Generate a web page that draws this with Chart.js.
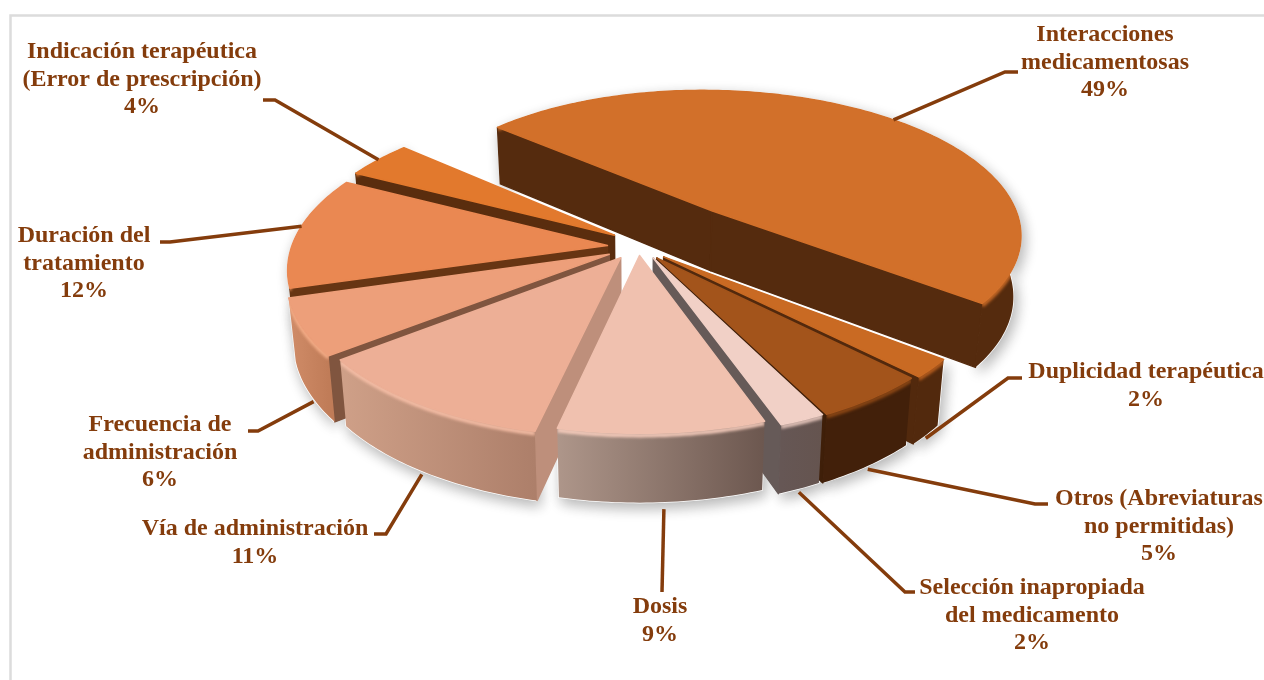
<!DOCTYPE html>
<html lang="es">
<head>
<meta charset="utf-8">
<title>Errores de medicación</title>
<style>
  html, body { margin: 0; padding: 0; background: #fff; }
  canvas { display: block; }
</style>
<script src="https://cdn.jsdelivr.net/npm/chart.js@4"></script>
</head>
<body>
<canvas id="pie" width="1264" height="680"></canvas>
<script>
// Slices, clockwise from the large back-right wedge
const categories = [
  ['Interacciones', 'medicamentosas'],
  ['Duplicidad terapéutica'],
  ['Otros (Abreviaturas', 'no permitidas)'],
  ['Selección inapropiada', 'del medicamento'],
  ['Dosis'],
  ['Vía de administración'],
  ['Frecuencia de', 'administración'],
  ['Duración del', 'tratamiento'],
  ['Indicación terapéutica', '(Error de prescripción)']
];
const values = [49, 2, 5, 2, 9, 11, 6, 12, 4];

// Explosion of each slice, in chart pixels
const explode = [70, 21, 19, 17, 12, 18, 23, 22, 21];
// Small extra drift of a slice on the disc, in hundredths of the radius
const driftX = [2.5, 0, 0, 1, -0.5, -1.5, 0, 0, 0];
const driftY = [0, 0, 0, 0, 0, 0, 0, 0, -2.5];

const topColors  = ['#D2702A', '#C96A23', '#A3541B', '#F1D0C6', '#F0C1AF', '#EDAF96', '#ED9F7A', '#EA8852', '#E2792D'];
const sideColors = ['#552B0E', '#52290D', '#3F1F09', '#665A58', '#7A5F55', '#BE8F7B', '#80553F', '#673513', '#5A2D0E'];
const wallLeft   = ['#552B0E', '#52290D', '#42200A', '#665755', '#AE968A', '#CFA088', '#D08C68', '#673513', '#5A2D0E'];
const wallRight  = ['#552B0E', '#52290D', '#42200A', '#65544F', '#6C574F', '#AD7F6A', '#C07C58', '#673513', '#5A2D0E'];
const bevelColors = ['#C96A26', '#B85E1E', '#8E4815', '#E6C6BC', '#F7CDBD', '#F6BEA6', '#F6AE88', '#F79B63', '#E2792D'];

// Text placement: centre x and first baseline of each label block
const labelX = [1105, 1146, 1159, 1032, 660, 255, 160, 84, 142];
const labelY = [41, 378, 505, 594, 613, 535, 431, 242, 58];
const lineStep = 27.5;

// Leader lines: where on the rim they start (share of slice sweep, height down the wall), then elbow and end
const leaderAt = [[0.52, 0], [0.5, 1.05], [0.5, 1.05], [0.5, 1.05], [0.49, 1.1], [0.52, 1.05], [0.4, 1.05], [0.55, 0], [0.5, 0]];
const leaderElbow = [[1005, 72], [1008, 378], [1035, 504], [905, 592], [662, 592], [386, 534], [258, 431], [170, 242], [275, 100]];
const leaderEnd   = [[1018, 72], [1022, 378], [1048, 504], [915, 592], [662, 592], [374, 534], [248, 431], [160, 242], [263, 100]];

const INK = '#843C0C';
const FRAME = '#DCDCDC';

// View of the disc: horizontal and vertical stretch, wall height (all relative to radius), perspective
const STRETCH_X = 1.49, STRETCH_Y = 0.70, WALL = 0.29, PERSPECTIVE = 0.15, TAPER = 0.02;

function projector(arc) {
  const R = arc.outerRadius;
  return (u, v, z) => {
    const s = 1 / (1 - PERSPECTIVE * v);
    const t = 1 - TAPER * z;
    return [
      arc.x + u * R * STRETCH_X * s * t,
      arc.y + v * R * STRETCH_Y * s * t + z * R * WALL * s
    ];
  };
}

function sliceGeometry(arc, i) {
  const mid = (arc.startAngle + arc.endAngle) / 2;
  const t = arc.options.offset / arc.outerRadius;
  const ox = t * Math.cos(mid) + driftX[i] / 100, oy = t * Math.sin(mid) + driftY[i] / 100;
  const p = projector(arc);
  const rimAt = (share, z) => {
    const a = arc.startAngle + share * (arc.endAngle - arc.startAngle);
    return p(Math.cos(a) + ox, Math.sin(a) + oy, z);
  };
  const steps = Math.max(4, Math.ceil((arc.endAngle - arc.startAngle) * 180 / Math.PI));
  const rim = z => Array.from({ length: steps + 1 }, (_, k) => rimAt(k / steps, z));
  const apex = z => p(ox, oy, z);
  return { rim, apex, rimAt, mid };
}

function tracePoly(ctx, pts) {
  ctx.beginPath();
  pts.forEach((q, k) => k ? ctx.lineTo(q[0], q[1]) : ctx.moveTo(q[0], q[1]));
}

function fillPoly(ctx, pts, color) {
  tracePoly(ctx, pts);
  ctx.closePath();
  ctx.fillStyle = color;
  ctx.strokeStyle = color;
  ctx.lineWidth = 1.5;
  ctx.lineJoin = 'round';
  ctx.fill();
  if (typeof color === 'string') ctx.stroke();
}

// A radial wall shows only when the slice's own top lies above its top edge
function sideVisible(a, b, inside) {
  const ex = b[0] - a[0], ey = b[1] - a[1];
  const crossIn = ex * (inside[1] - a[1]) - ey * (inside[0] - a[0]);
  const crossDown = ex;
  return crossIn * crossDown < 0;
}

function drawSlice(ctx, arc, i) {
  const g = sliceGeometry(arc, i);
  const rimTop = g.rim(0), rimBot = g.rim(1);
  const apexTop = g.apex(0), apexBot = g.apex(1);
  const inner = g.rimAt(0.5, 0);
  const first = rimTop[0], last = rimTop[rimTop.length - 1];

  if (sideVisible(apexTop, first, inner)) {
    fillPoly(ctx, [apexTop, first, rimBot[0], apexBot], sideColors[i]);
  }
  if (sideVisible(apexTop, last, inner)) {
    fillPoly(ctx, [apexTop, last, rimBot[rimBot.length - 1], apexBot], sideColors[i]);
  }

  const xs = rimTop.map(q => q[0]);
  const grad = ctx.createLinearGradient(Math.min(...xs), 0, Math.max(...xs), 0);
  grad.addColorStop(0, wallLeft[i]);
  grad.addColorStop(1, wallRight[i]);
  const wall = rimTop.concat(rimBot.slice().reverse());
  fillPoly(ctx, wall, grad);

  // Soft bevel where the top meets the outer wall, kept inside the wall
  ctx.save();
  tracePoly(ctx, wall);
  ctx.closePath();
  ctx.clip();
  ctx.filter = 'blur(1.6px)';
  tracePoly(ctx, g.rim(0.03));
  ctx.strokeStyle = bevelColors[i];
  ctx.lineWidth = 4;
  ctx.stroke();
  ctx.restore();

  fillPoly(ctx, [apexTop].concat(rimTop), topColors[i]);
}

const pie3d = {
  id: 'pie3d',
  // Replaces the flat arcs with extruded slices built from the same arc elements
  beforeDatasetDraw(chart, args) {
    const { ctx } = chart;
    const arcs = args.meta.data;
    ctx.save();
    ctx.strokeStyle = FRAME;
    ctx.lineWidth = 2.5;
    ctx.beginPath();
    ctx.moveTo(10.5, 680);
    ctx.lineTo(10.5, 15.5);
    ctx.lineTo(1264, 15.5);
    ctx.stroke();

    // Ground shadow first, so it only falls on the page
    ctx.save();
    ctx.shadowColor = 'rgba(0,0,0,0.30)';
    ctx.shadowBlur = 14;
    ctx.shadowOffsetX = 3;
    ctx.shadowOffsetY = 5;
    arcs.forEach((arc, i) => {
      const g = sliceGeometry(arc, i);
      fillPoly(ctx, g.rim(0).concat(g.rim(1).reverse()), '#fff');
    });
    ctx.restore();

    const frontness = arc => {
      const deg = (arc.startAngle + arc.endAngle) / 2 * 180 / Math.PI + 90;
      const wrapped = ((deg % 360) + 360) % 360;
      return -Math.abs(wrapped - 180);
    };
    arcs.map((arc, i) => ({ arc, i }))
      .sort((a, b) => frontness(a.arc) - frontness(b.arc))
      .forEach(({ arc, i }) => drawSlice(ctx, arc, i));
    ctx.restore();
    return false;
  },
  afterDatasetsDraw(chart) {
    const { ctx } = chart;
    const arcs = chart.getDatasetMeta(0).data;
    ctx.save();
    ctx.strokeStyle = INK;
    ctx.lineWidth = 3.5;
    ctx.lineJoin = 'miter';
    arcs.forEach((arc, i) => {
      const from = sliceGeometry(arc, i).rimAt(leaderAt[i][0], leaderAt[i][1]);
      ctx.beginPath();
      ctx.moveTo(from[0], from[1]);
      ctx.lineTo(leaderElbow[i][0], leaderElbow[i][1]);
      ctx.lineTo(leaderEnd[i][0], leaderEnd[i][1]);
      ctx.stroke();
    });
    ctx.fillStyle = INK;
    ctx.font = 'bold 24px "Liberation Serif"';
    ctx.textAlign = 'center';
    ctx.textBaseline = 'alphabetic';
    categories.forEach((lines, i) => {
      lines.concat(values[i] + '%').forEach((line, k) => {
        ctx.fillText(line, labelX[i], labelY[i] + k * lineStep);
      });
    });
    ctx.restore();
  }
};

new Chart(document.getElementById('pie'), {
  type: 'pie',
  data: {
    labels: categories.map(lines => lines.join(' ')),
    datasets: [{ data: values, backgroundColor: topColors, offset: explode, borderWidth: 0 }]
  },
  options: {
    responsive: false,
    animation: false,
    rotation: -48.5,
    layout: { padding: { left: 16, bottom: 186 } },
    plugins: { legend: { display: false }, tooltip: { enabled: false } }
  },
  plugins: [pie3d]
});
</script>
</body>
</html>
